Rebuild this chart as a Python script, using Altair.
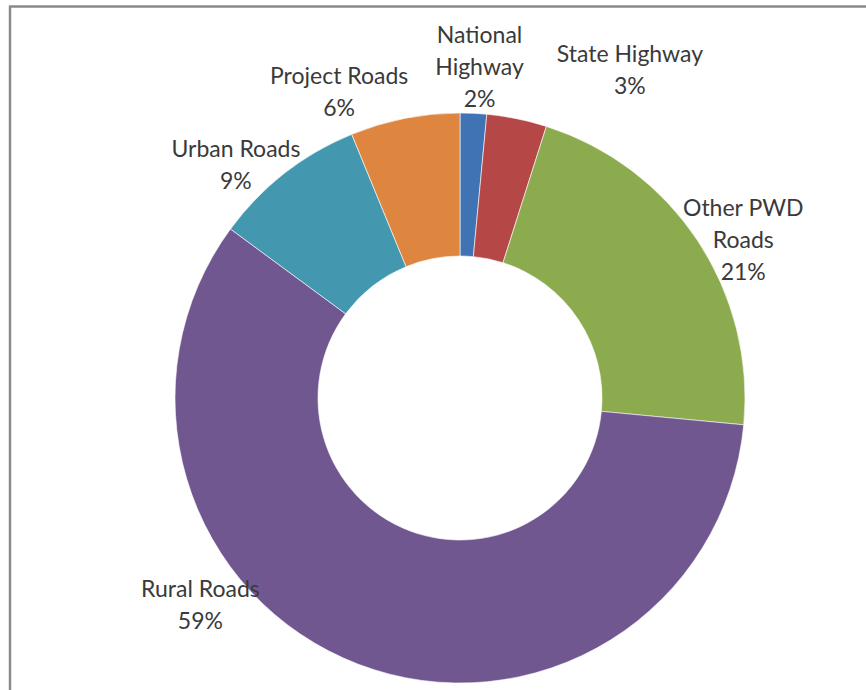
import altair as alt
import pandas as pd

categories = ["National Highway", "State Highway", "Other PWD Roads",
              "Rural Roads", "Urban Roads", "Project Roads"]
label_names = ["National\nHighway", "State Highway", "Other PWD\nRoads",
               "Rural Roads", "Urban Roads", "Project Roads"]
shares = [1.5, 3.4, 21.6, 58.6, 8.7, 6.2]
pct_labels = ["2%", "3%", "21%", "59%", "9%", "6%"]
colors = ["#3f73b3", "#b54846", "#8cab4e", "#71578f", "#4397ae", "#de853f"]

df = pd.DataFrame({
    "category": categories,
    "share": shares,
    "order": list(range(len(categories))),
    "label": [n + "\n" + p for n, p in zip(label_names, pct_labels)],
})

CX, CY = 460, 398
R_OUT, R_IN, R_LAB = 285, 142, 330

base = alt.Chart(df).encode(
    theta=alt.Theta("share:Q", stack=True),
    order=alt.Order("order:Q", sort="ascending"),
)

arcs = base.mark_arc(outerRadius=R_OUT, innerRadius=R_IN, stroke="white",
                     strokeWidth=0.6).encode(
    x=alt.value(CX), y=alt.value(CY),
    color=alt.Color("category:N", scale=alt.Scale(domain=categories, range=colors),
                    legend=None),
)

# per-label nudges (layout only), mimicking the original label placement
nudges = {
    "National Highway": (4, -32),
    "State Highway": (104, -20),
    "Other PWD Roads": (8, -7),
    "Rural Roads": (-142, -116),
    "Urban Roads": (-21, 12),
    "Project Roads": (-57, 3),
}

text_layers = []
for cat in categories:
    dx, dy = nudges[cat]
    t = base.mark_text(radius=R_LAB, dx=dx, dy=dy, font="Lato", fontSize=23,
                       color="#3a3a3a", lineBreak="\n", lineHeight=32,
                       align="center", baseline="middle").encode(
        x=alt.value(CX), y=alt.value(CY),
        text="label:N",
        opacity=alt.condition(alt.datum.category == cat, alt.value(1), alt.value(0)),
    )
    text_layers.append(t)

frame_top = alt.Chart(pd.DataFrame({"a": [0]})).mark_rule(
    color="#8a8a8a", strokeWidth=2.5).encode(
    x=alt.value(9), x2=alt.value(866), y=alt.value(6.5))
frame_left = alt.Chart(pd.DataFrame({"a": [0]})).mark_rule(
    color="#8a8a8a", strokeWidth=2.5).encode(
    x=alt.value(10), y=alt.value(6), y2=alt.value(690))

chart = alt.layer(arcs, *text_layers, frame_top, frame_left).properties(
    width=866, height=690,
    autosize=alt.AutoSizeParams(type="none"),
    padding=0,
    background="white",
).configure_view(stroke=None)

chart.save("out.html", embed_options={"renderer": "svg", "actions": False})
